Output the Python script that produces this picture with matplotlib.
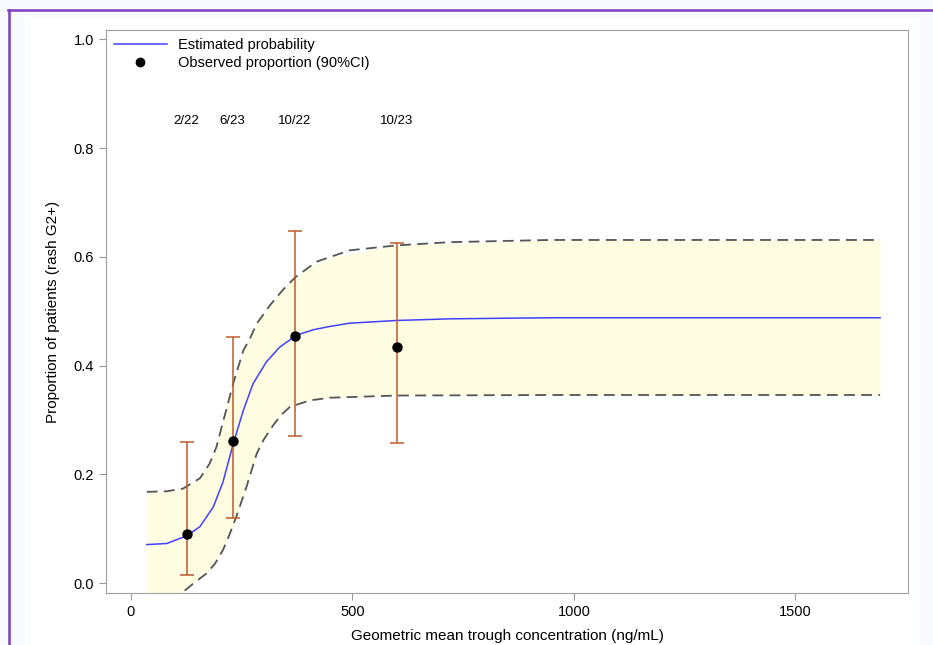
import numpy as np
import matplotlib.pyplot as plt
from matplotlib.lines import Line2D
from matplotlib.patches import Rectangle

plt.rcParams['font.family'] = ['Liberation Sans', 'DejaVu Sans']

# estimated probability curve
conc = [36, 81, 126, 156, 186, 208, 231, 254, 276, 306, 336, 374, 412, 449, 494, 600, 720, 946, 1300, 1691]
prob = [0.071, 0.073, 0.087, 0.104, 0.140, 0.186, 0.256, 0.318, 0.367, 0.407, 0.434, 0.456,
        0.466, 0.472, 0.478, 0.483, 0.486, 0.488, 0.488, 0.488]

# upper / lower 90% band
band_x = [36, 81, 118, 156, 178, 193, 208, 231, 254, 269, 284, 314, 344, 372, 419, 494, 600, 720, 946, 1300, 1691]
upper = [0.168, 0.169, 0.174, 0.193, 0.220, 0.250, 0.296, 0.367, 0.428, 0.450, 0.477, 0.511, 0.540,
         0.563, 0.591, 0.612, 0.621, 0.627, 0.631, 0.631, 0.631]
low_x = [36, 80, 118, 145, 171, 190, 208, 223, 238, 261, 284, 300, 321, 340, 359, 404, 449, 600, 946, 1300, 1691]
lower = [-0.075, -0.055, -0.016, 0.002, 0.018, 0.036, 0.061, 0.090, 0.122, 0.177, 0.238, 0.264, 0.290,
         0.310, 0.324, 0.336, 0.341, 0.345, 0.346, 0.346, 0.346]

# observed proportions with 90% CI
obs_x = [126, 230, 370, 600]
obs_p = [2/22, 6/23, 10/22, 10/23]
ci_lo = [0.015, 0.120, 0.270, 0.257]
ci_hi = [0.260, 0.452, 0.647, 0.625]
obs_lab = ['2/22', '6/23', '10/22', '10/23']

fig = plt.figure(figsize=(9.33, 6.45), dpi=100)
fig.patch.set_facecolor('#f9faff')
# white panel and purple frame
fig.patches.append(Rectangle((25/933, 0), (920-25)/933, 1-17/645, transform=fig.transFigure,
                             facecolor='white', edgecolor='none', zorder=-2))
fig.add_artist(Line2D([8/933, 1], [1-9.5/645, 1-9.5/645], transform=fig.transFigure, color='#7d3fc0', lw=1.8))
fig.add_artist(Line2D([8.5/933, 8.5/933], [0, 1-9.5/645], transform=fig.transFigure, color='#7d3fc0', lw=1.8))

ax = fig.add_axes([106/933, 1-593/645, 802/933, 563/645])

# band fill between upper and lower curves
up_on_low = np.interp(low_x, band_x, upper)
ax.fill_between(low_x, lower, up_on_low, color='#fffde1', lw=0, zorder=1)

ax.plot(band_x, upper, color='#555555', lw=1.3, dashes=(6, 3.5), zorder=2)
ax.plot(low_x, lower, color='#555555', lw=1.3, dashes=(6, 3.5), zorder=2)
ax.plot(conc, prob, color='#4040ff', lw=1.1, zorder=3)

yerr = [np.array(obs_p) - np.array(ci_lo), np.array(ci_hi) - np.array(obs_p)]
ax.errorbar(obs_x, obs_p, yerr=yerr, fmt='none', ecolor='#c0582e', elinewidth=1.1,
            capsize=5, capthick=1.1, zorder=4)
ax.scatter(obs_x, obs_p, color='black', s=42, zorder=5)

for x, lab in zip(obs_x, obs_lab):
    ax.text(x, 0.849, lab, ha='center', va='center', fontsize=9.5)

ax.set_xlim(-56, 1754)
ax.set_ylim(-0.018, 1.017)
ax.set_xticks([0, 500, 1000, 1500])
ax.set_yticks([0.0, 0.2, 0.4, 0.6, 0.8, 1.0])
ax.set_yticklabels(['0.0', '0.2', '0.4', '0.6', '0.8', '1.0'])
ax.tick_params(colors='#999999', labelcolor='black', labelsize=10.5, length=5, width=0.8)
for s in ax.spines.values():
    s.set_color('#a0a0a0')

ax.set_xlabel('Geometric mean trough concentration (ng/mL)', fontsize=11, labelpad=7)
ax.set_ylabel('Proportion of patients (rash G2+)', fontsize=11, labelpad=10)

handles = [Line2D([], [], color='#4040ff', lw=1.1),
           Line2D([], [], marker='o', color='black', ls='none', markersize=6)]
ax.legend(handles, ['Estimated probability', 'Observed proportion (90%CI)'],
          loc='upper left', frameon=False, fontsize=10.5, handlelength=3.6,
          borderaxespad=0.15, labelspacing=0.3, handletextpad=0.8)

fig.savefig('out.png', dpi=100)
